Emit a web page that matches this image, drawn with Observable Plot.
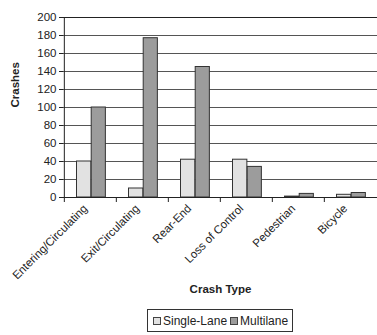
<!DOCTYPE html>
<html>
<head>
<meta charset="utf-8">
<script src="https://cdn.jsdelivr.net/npm/d3@7"></script>
<script src="https://cdn.jsdelivr.net/npm/@observablehq/plot@0.6"></script>
<style>
  html, body { margin: 0; padding: 0; background: #fff; }
  #wrap { position: relative; width: 377px; height: 335px; font-family: "Liberation Sans", Arial, sans-serif; }
  #legend {
    position: absolute; left: 147px; top: 309px; width: 146px; height: 23px;
    border: 1px solid #333; box-sizing: border-box; white-space: nowrap;
    font-size: 12px; color: #222; display: flex; align-items: center; padding-left: 5px; padding-top: 1px;
  }
  #legend .sw { display: inline-block; width: 6px; height: 6px; border: 1px solid #444; margin-right: 2px; }
  #legend .item { display: inline-flex; align-items: center; margin-right: 3px; white-space: nowrap; }
</style>
</head>
<body>
<div id="wrap"></div>
<script>
// Crash counts by crash type at single-lane and multilane roundabouts
const crashTypes = ["Entering/Circulating", "Exit/Circulating", "Rear-End", "Loss of Control", "Pedestrian", "Bicycle"];
const singleLane = [40, 10, 42, 42, 1, 3];
const multilane = [100, 177, 145, 34, 4, 5];
const yTicks = [0, 20, 40, 60, 80, 100, 120, 140, 160, 180, 200];
const seriesNames = ["Single-Lane", "Multilane"];
const seriesFill = ["#e2e2e2", "#9c9c9c"];

const rows = crashTypes.flatMap((type, i) => [
  {type, series: seriesNames[0], value: singleLane[i]},
  {type, series: seriesNames[1], value: multilane[i]}
]);

const W = 377, H = 305, mL = 63, mR = 0, mT = 17, mB = 108;
const band = (W - mL - mR) / crashTypes.length;
const font = "Liberation Sans, Arial, sans-serif";

const chart = Plot.plot({
  width: W,
  height: H,
  marginLeft: mL,
  marginRight: mR,
  marginTop: mT,
  marginBottom: mB,
  style: {fontFamily: font, fontSize: "11.5px", color: "#222", background: "#fff"},
  x: {domain: crashTypes, padding: 0, axis: null},
  y: {domain: [0, 200], axis: null},
  marks: [
    Plot.gridY(yTicks, {stroke: "#555", strokeOpacity: 1}),
    Plot.barY(rows.filter(d => d.series === seriesNames[0]), {
      x: "type", y: "value", fill: seriesFill[0], stroke: "#333", strokeWidth: 1,
      insetLeft: 12.5, insetRight: band - 27.2
    }),
    Plot.barY(rows.filter(d => d.series === seriesNames[1]), {
      x: "type", y: "value", fill: seriesFill[1], stroke: "#333", strokeWidth: 1,
      insetLeft: 27.2, insetRight: band - 41.7
    }),
    Plot.ruleY([0, 200], {stroke: "#222"}),
    Plot.ruleX([crashTypes[0]], {y1: 0, y2: 200, dx: -band / 2, stroke: "#222"}),
    // category boundary ticks
    Plot.axisX({tickSize: 5, tickFormat: () => "", label: null, dx: -band / 2, stroke: "#222"}),
    // rotated category labels
    Plot.axisX({tickSize: 0, tickRotate: -45, tickPadding: 9, label: null, dx: -5, fontSize: 11.5, fill: "#222"}),
    Plot.axisY(yTicks, {tickSize: 4, tickPadding: 3, label: null, fontSize: 11.5, fill: "#222", stroke: "#222"}),
    Plot.text(["Crash Type"], {frameAnchor: "bottom", dy: 95, fontWeight: "bold", fontSize: 11.5, fill: "#222"}),
    Plot.text(["Crashes"], {frameAnchor: "left", dx: -48, rotate: -90, fontWeight: "bold", fontSize: 11.5, fill: "#222"})
  ]
});

const wrap = document.getElementById("wrap");
wrap.appendChild(chart);

const legend = document.createElement("div");
legend.id = "legend";
seriesNames.forEach((name, i) => {
  const item = document.createElement("span");
  item.className = "item";
  const sw = document.createElement("span");
  sw.className = "sw";
  sw.style.background = seriesFill[i];
  item.appendChild(sw);
  item.appendChild(document.createTextNode(name));
  legend.appendChild(item);
});
wrap.appendChild(legend);
</script>
</body>
</html>
